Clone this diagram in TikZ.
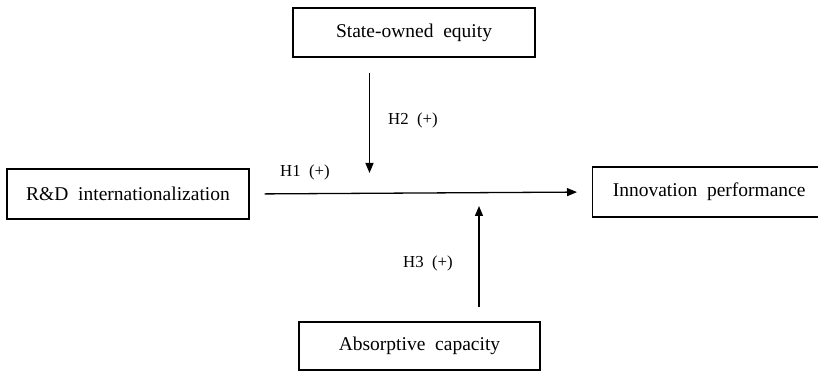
\documentclass[tikz,border=0pt]{standalone}
\usepackage{fontspec}
\setmainfont{Liberation Serif}
\usetikzlibrary{arrows.meta}
\begin{document}
\begin{tikzpicture}[x=1pt,y=1pt,
  box/.style={draw, line width=1.3pt, inner sep=0pt, font=\fontsize{19.5}{23}\selectfont},
  lab/.style={inner sep=0pt, font=\fontsize{16.8}{20}\selectfont},
  arr/.style={line width=1.3pt, -{Triangle[length=10pt,width=8pt]}}]
\useasboundingbox (0,0) rectangle (818,371);
\node[box, minimum width=242pt, minimum height=49pt] (so) at (414,338.5) {State-owned~~equity};
\node[box, minimum width=242pt, minimum height=50pt] (rd) at (128,177) {R\&D~~internationalization};
\node[box, minimum width=244pt, minimum height=50pt, anchor=west] (ip) at (592,179) {\hspace{-11pt}Innovation~~performance};
\node[box, minimum width=241pt, minimum height=48pt] (ac) at (419.5,25) {Absorptive~~capacity};
\node[lab] (h1) at (305,199) {H1~~(+)};
\node[lab] (h2) at (413,251) {H2~~(+)};
\node[lab] (h3) at (428,108) {H3~~(+)};
\coordinate (dn) at (369.5,198);
\coordinate (up) at (479,165);
\draw[arr, shorten <=15pt, shorten >=15pt] (rd.east) -- (ip.west);
\draw[arr] ([yshift=-15pt]so.south -| dn) -- (dn);
\draw[arr] ([yshift=14pt]ac.north -| up) -- (up);
\end{tikzpicture}
\end{document}
